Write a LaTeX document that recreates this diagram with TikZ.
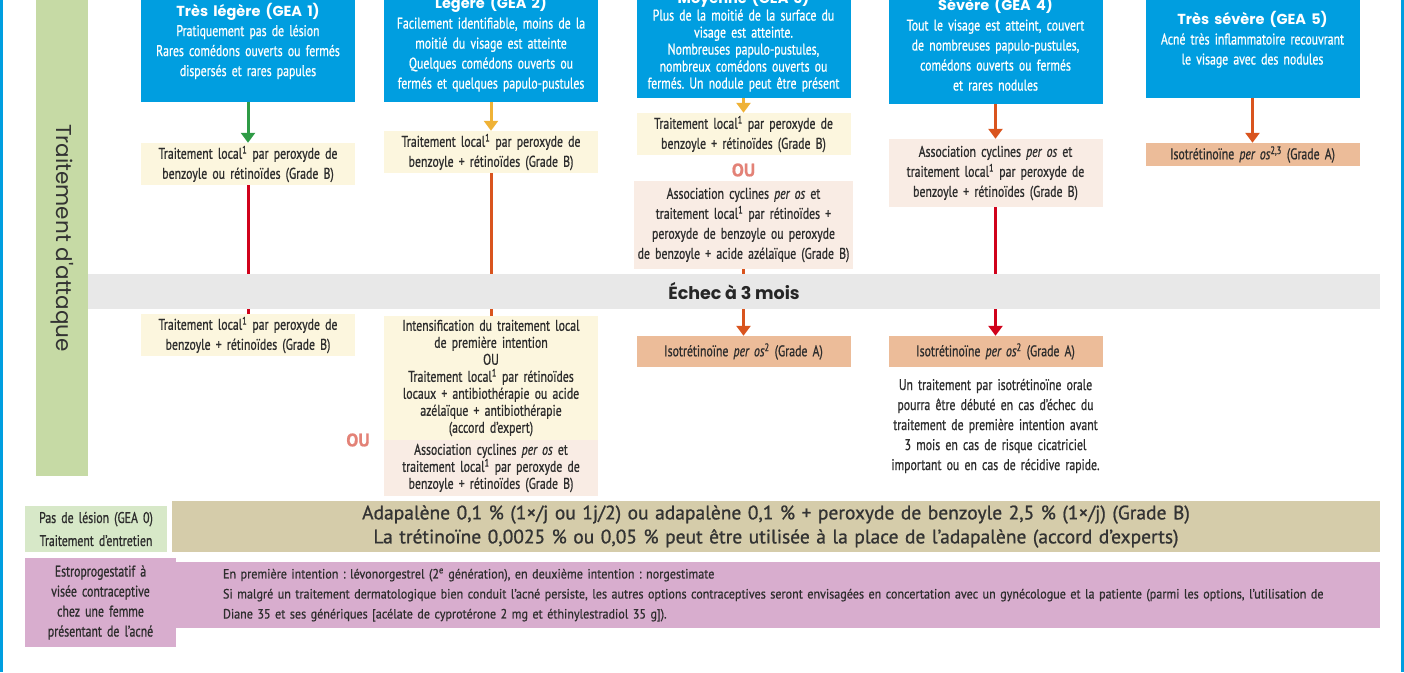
\documentclass[tikz,border=0pt]{standalone}
\usepackage{fontspec}
\setmainfont{PT Sans}[FakeStretch=0.76, FakeBold=0.8]
\newfontfamily\titlefont{Poppins}
\newfontfamily\widefont{PT Sans}[FakeBold=0.9]
\newfontfamily\notefont{PT Sans}[FakeStretch=0.9, FakeBold=0.6]
\usetikzlibrary{arrows.meta}
\frenchspacing

\definecolor{geablue}{RGB}{0,158,224}
\definecolor{bandgreen}{RGB}{198,218,165}
\definecolor{localyellow}{RGB}{252,246,222}
\definecolor{cyclpeach}{RGB}{249,236,228}
\definecolor{isosalmon}{RGB}{236,188,153}
\definecolor{echecgrey}{RGB}{232,232,232}
\definecolor{adaptan}{RGB}{213,204,170}
\definecolor{gealight}{RGB}{215,232,200}
\definecolor{estromauve}{RGB}{216,173,206}
\definecolor{arrgreen}{RGB}{46,155,70}
\definecolor{arryellow}{RGB}{239,178,54}
\definecolor{arrorange}{RGB}{217,84,30}
\definecolor{arrred}{RGB}{208,2,27}
\definecolor{ousalmon}{RGB}{227,130,119}
\definecolor{txtgrey}{RGB}{45,45,45}

\tikzset{
  box/.style={inner sep=0pt, align=center, text=txtgrey, font=\fontsize{15.5}{20}\selectfont},
  geabox/.style={box, fill=geablue, text=white, text width=214pt},
  localbox/.style={box, fill=localyellow, text width=214pt},
  cyclbox/.style={box, fill=cyclpeach, text width=214pt},
  isobox/.style={box, fill=isosalmon, text width=214pt, minimum height=31pt},
  ouword/.style={text=ousalmon, font=\widefont\bfseries\fontsize{18}{18}\selectfont},
  link/.style={line width=3pt},
  tip/.style={-{Triangle[width=14pt,length=10pt]}},
}
\newcommand{\geatitle}[1]{{\titlefont\bfseries\fontsize{14.5}{20}\selectfont #1}}

\begin{document}
\begin{tikzpicture}[x=1pt, y=-1pt]
    \useasboundingbox (0,0) rectangle (1404,672);
    \clip (0,0) rectangle (1404,672);

    % Frame lines
    \draw[geablue, line width=3pt] (1.5,0) -- (1.5,672);
    \draw[geablue, line width=3pt] (1402.5,0) -- (1402.5,672);

    % Side band
    \node[fill=bandgreen, rotate=-90, minimum width=476pt, minimum height=52pt, inner sep=0pt,
          text=black!80, font=\titlefont\fontsize{21.5}{21.5}\selectfont] (attaque) at (62,238) {Traitement d'attaque};

    % Severity boxes
    \node[geabox, minimum height=122pt] (gea1) at (248,41)
        {\geatitle{Très légère (GEA 1)}\\Pratiquement pas de lésion\\Rares comédons ouverts ou fermés\\dispersés et rares papules};
    \node[geabox, minimum height=117pt] (gea2) at (491,43.5)
        {\geatitle{Légère (GEA 2)}\\Facilement identifiable, moins de la\\moitié du visage est atteinte\\Quelques comédons ouverts ou\\fermés et quelques papulo-pustules};
    \node[geabox, minimum height=114pt, font=\fontsize{15.5}{17}\selectfont] (gea3) at (743.5,41)
        {\geatitle{Moyenne (GEA 3)}\\Plus de la moitié de la surface du\\visage est atteinte.\\Nombreuses papulo-pustules,\\nombreux comédons ouverts ou\\fermés. Un nodule peut être présent};
    \node[geabox, minimum height=120pt] (gea4) at (995.5,44)
        {\geatitle{Sévère (GEA 4)}\\Tout le visage est atteint, couvert\\de nombreuses papulo-pustules,\\comédons ouverts ou fermés\\et rares nodules};
    \node[geabox, minimum height=117pt] (gea5) at (1252.5,39.5)
        {\geatitle{Très sévère (GEA 5)}\\Acné très inflammatoire recouvrant\\le visage avec des nodules};

    % First line treatments
    \node[localbox, minimum height=42pt] (t1a) at (248,164)
        {Traitement local\textsuperscript{1} par peroxyde de\\benzoyle ou rétinoïdes (Grade B)};
    \node[localbox, minimum height=42pt] (t2a) at (491,152)
        {Traitement local\textsuperscript{1} par peroxyde de\\benzoyle + rétinoïdes (Grade B)};
    \node[localbox, minimum height=42pt] (t3a) at (743.5,134)
        {Traitement local\textsuperscript{1} par peroxyde de\\benzoyle + rétinoïdes (Grade B)};
    \node[ouword] (ou3) at (743.5,170) {OU};
    \node[cyclbox, text width=219pt, minimum height=88pt] (t3b) at (743.5,225)
        {Association cyclines \textit{per os} et\\traitement local\textsuperscript{1} par rétinoïdes +\\peroxyde de benzoyle ou peroxyde\\de benzoyle + acide azélaïque (Grade B)};
    \node[cyclbox, minimum height=68pt] (t4a) at (995.5,173)
        {Association cyclines \textit{per os} et\\traitement local\textsuperscript{1} par peroxyde de\\benzoyle + rétinoïdes (Grade B)};
    \node[isobox, minimum height=23pt] (t5a) at (1252.5,154.5)
        {Isotrétinoïne \textit{per os}\textsuperscript{2,3} (Grade A)};

    % Failure band
    \node[fill=echecgrey, minimum width=1292pt, minimum height=35pt, inner sep=0pt, text=black!85,
          font=\titlefont\bfseries\fontsize{17.5}{17.5}\selectfont] (echec) at (734,291.5) {Échec à 3 mois};

    % Second line treatments
    \node[localbox, minimum height=42pt] (t1b) at (248,335)
        {Traitement local\textsuperscript{1} par peroxyde de\\benzoyle + rétinoïdes (Grade B)};
    \node[localbox, minimum height=124pt, font=\fontsize{15.5}{17}\selectfont] (t2b) at (491,378)
        {Intensification du traitement local\\de première intention\\OU\\Traitement local\textsuperscript{1} par rétinoïdes\\locaux + antibiothérapie ou acide\\azélaïque + antibiothérapie\\(accord d’expert)};
    \node[cyclbox, minimum height=56pt, font=\fontsize{15.5}{17}\selectfont] (t2c) at (491,468)
        {Association cyclines \textit{per os} et\\traitement local\textsuperscript{1} par peroxyde de\\benzoyle + rétinoïdes (Grade B)};
    \node[ouword] (ou2) at (358,440) {OU};
    \node[isobox] (t3c) at (743.5,351.5) {Isotrétinoïne \textit{per os}\textsuperscript{2} (Grade A)};
    \node[isobox] (t4b) at (995.5,351.5) {Isotrétinoïne \textit{per os}\textsuperscript{2} (Grade A)};
    \node[box, text width=214pt] (note4) at (995.5,426)
        {Un traitement par isotrétinoïne orale\\pourra être débuté en cas d’échec du\\traitement de première intention avant\\3 mois en cas de risque cicatriciel\\important ou en cas de récidive rapide.};

    % Arrows from severity boxes
    \draw[link, tip, arrgreen] (gea1) -- (t1a);
    \draw[link, tip, arryellow] (gea2) -- (t2a);
    \draw[link, tip, arryellow] (gea3) -- (t3a);
    \draw[link, tip, arrorange] (gea4) -- (t4a);
    \draw[link, tip, arrorange] (gea5) -- (t5a);

    % Lines through the failure band
    \draw[link, arrred] (t1a) -- (t1a |- echec.north);
    \draw[link, arrred] (echec.south -| t1b) -- (t1b);
    \draw[link, arrorange] (t2a) -- (t2a |- echec.north);
    \draw[link, arrorange] (echec.south -| t2b) -- (t2b);
    \draw[link, arrorange] (t3b) -- (t3b |- echec.north);
    \draw[link, tip, arrorange] (echec.south -| t3c) -- (t3c);
    \draw[link, arrred] (t4a) -- (t4a |- echec.north);
    \draw[link, tip, arrred] (echec.south -| t4b) -- (t4b);

    % Maintenance and contraception
    \node[box, fill=gealight, text width=142pt, minimum height=46pt, font=\fontsize{15.5}{23}\selectfont] (gea0) at (96,529)
        {Pas de lésion (GEA 0)\\Traitement d’entretien};
    \node[box, fill=adaptan, text width=1208pt, minimum height=51pt, text=black!80,
          font=\widefont\fontsize{19.5}{24}\selectfont] (adap) at (776,526.5)
        {Adapalène 0,1 \% (1×/j ou 1j/2) ou adapalène 0,1 \% + peroxyde de benzoyle 2,5 \% (1×/j) (Grade B)\\La trétinoïne 0,0025 \% ou 0,05 \% peut être utilisée à la place de l’adapalène (accord d’experts)};
    \node[box, fill=estromauve, text width=1110pt, inner xsep=47pt, minimum height=66pt, align=left,
          font=\notefont\fontsize{13.45}{20}\selectfont] (contra) at (778,595)
        {En première intention : lévonorgestrel (2\textsuperscript{e} génération), en deuxième intention : norgestimate\\Si malgré un traitement dermatologique bien conduit l’acné persiste, les autres options contraceptives seront envisagées en concertation avec un gynécologue et la patiente (parmi les options, l’utilisation de\\Diane 35 et ses génériques [acélate de cyprotérone 2 mg et éthinylestradiol 35 g]).};
    \node[box, fill=estromauve, text width=151pt, minimum height=89pt, font=\fontsize{15.5}{20}\selectfont] (estro) at (100.5,602.5)
        {Estroprogestatif à\\visée contraceptive\\chez une femme\\présentant de l’acné};
\end{tikzpicture}
\end{document}
